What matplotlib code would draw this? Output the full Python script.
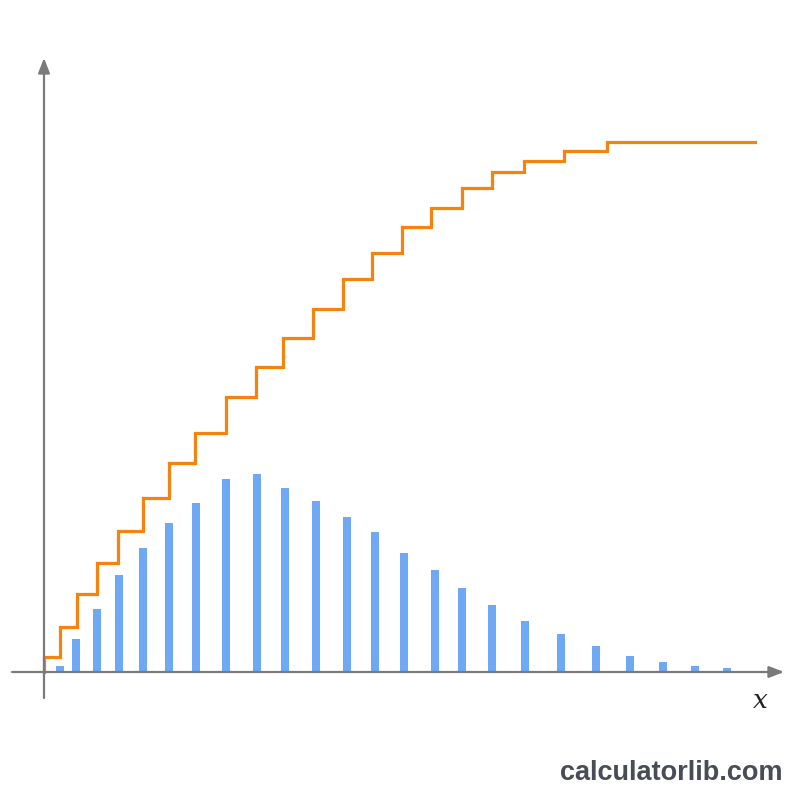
import matplotlib
matplotlib.use("Agg")
import matplotlib.pyplot as plt

# Data (in picture-relative units)
bar_x = [16, 32, 53, 75, 99, 125, 152, 182, 213, 241, 272, 303, 331, 360,
         391, 418, 448, 481, 517, 552, 586, 619, 651, 683]
bar_h = [6, 33, 63, 97, 124, 149, 169, 193, 198, 184, 171, 155, 140, 119,
         102, 84, 67, 51, 38, 26, 16, 10, 6, 4]

step_x = [0, 16, 33, 53, 74, 99, 125, 151, 182, 212, 239, 269, 299, 328,
          358, 387, 418, 448, 480, 520, 563]
step_y = [15, 45, 78, 109, 141, 174, 209, 239, 275, 305, 334, 363, 393,
          419, 445, 464, 484, 500, 511, 521, 530]
step_end = 711

fig = plt.figure(figsize=(8, 8), dpi=100)
fig.patch.set_facecolor("white")
ax = fig.add_axes([0, 0, 1, 1])
ax.set_xlim(-44, 756)
ax.set_ylim(-128, 672)
ax.axis("off")

axis_col = "#7a7a7a"
ax.bar(bar_x, bar_h, width=8, color="#6fa8f5", zorder=2)

xs = [step_x[0]] + step_x + [step_end]
ys = [0] + step_y + [step_y[-1]]
ax.step(xs, ys, where="post", color="#f5840f", lw=2.3, zorder=3,
        solid_joinstyle="miter")

# axes with arrows
ax.annotate("", xy=(740, 0), xytext=(-32, 0),
            arrowprops=dict(arrowstyle="-|>,head_length=0.9,head_width=0.35",
                            color=axis_col, lw=1.6, shrinkA=0, shrinkB=0),
            zorder=4)
ax.annotate("", xy=(0, 614), xytext=(0, -26),
            arrowprops=dict(arrowstyle="-|>,head_length=0.9,head_width=0.35",
                            color=axis_col, lw=1.6, shrinkA=0, shrinkB=0),
            zorder=4)

ax.text(716, -28, "x", fontsize=19, fontstyle="italic", family="DejaVu Serif",
        ha="center", va="center", color="#222222")

fig.text(0.978, 0.034, "calculatorlib.com", fontsize=19.5, fontweight="bold",
         family="Liberation Sans", ha="right", va="center", color="#474c57")

fig.savefig("out.png", dpi=100, facecolor="white")
